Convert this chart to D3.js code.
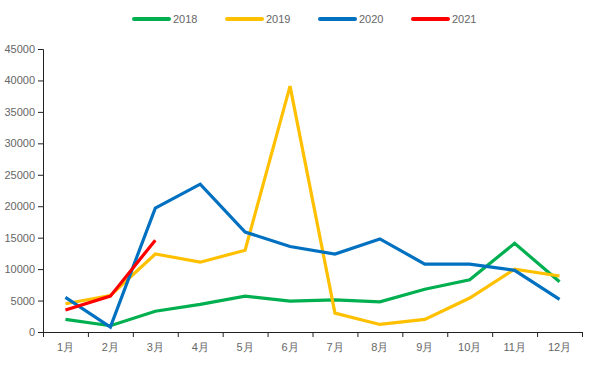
<!DOCTYPE html>
<html>
<head>
<meta charset="utf-8">
<script src="https://cdn.jsdelivr.net/npm/d3@7"></script>
<style>
  body { margin: 0; background: #fff; }
  text { font-family: "Liberation Sans", Arial, sans-serif; }
</style>
</head>
<body>
<svg id="chart" width="601" height="376"></svg>
<script>
const months = ['1月', '2月', '3月', '4月', '5月', '6月', '7月', '8月', '9月', '10月', '11月', '12月'];
const years = ['2018', '2019', '2020', '2021'];
const values2018 = [2000, 1000, 3300, 4400, 5700, 4900, 5100, 4800, 6800, 8300, 14100, 8000];
const values2019 = [4500, 5800, 12400, 11100, 13000, 39100, 3000, 1200, 2000, 5400, 10000, 8900];
const values2020 = [5500, 800, 19700, 23500, 15900, 13600, 12400, 14800, 10800, 10800, 9800, 5200];
const values2021 = [3500, 5700, 14600];
const yTicks = [0, 5000, 10000, 15000, 20000, 25000, 30000, 35000, 40000, 45000];
const colors = ['#00b050', '#ffc000', '#0070c0', '#ff0000'];

const series = [values2018, values2019, values2020, values2021];

const svg = d3.select('#chart');
const plotLeft = 43, plotRight = 582, plotTop = 49, plotBottom = 332;

const x = d3.scaleBand().domain(months).range([plotLeft, plotRight]);
const xEdge = d3.scaleLinear().domain([0, 12]).range([plotLeft, plotRight]);
const y = d3.scaleLinear().domain([0, 45000]).range([plotBottom, plotTop]);

// y axis
const yAxis = svg.append('g')
  .attr('transform', 'translate(' + plotLeft + ',0)')
  .call(d3.axisLeft(y).tickValues(yTicks).tickFormat(d3.format('d'))
    .tickSize(5).tickSizeOuter(5).tickPadding(3));
yAxis.selectAll('text').attr('fill', '#666').style('font-size', '11px');
yAxis.selectAll('line, path').attr('stroke', '#222');

// x axis: boundary ticks
const xTicks = svg.append('g')
  .attr('transform', 'translate(0,' + plotBottom + ')')
  .call(d3.axisBottom(xEdge).ticks(12).tickSize(5).tickSizeOuter(0).tickFormat(''));
xTicks.selectAll('line, path').attr('stroke', '#222');

// x axis labels
const xLabels = svg.append('g')
  .attr('transform', 'translate(0,' + plotBottom + ')')
  .call(d3.axisBottom(x).tickSize(0).tickPadding(11));
xLabels.select('.domain').remove();
xLabels.selectAll('text').attr('fill', '#666').style('font-size', '11px');

// lines
const line = d3.line()
  .x((d, i) => x(months[i]) + x.bandwidth() / 2)
  .y(d => y(d));

series.forEach((vals, k) => {
  svg.append('path')
    .datum(vals)
    .attr('fill', 'none')
    .attr('stroke', colors[k])
    .attr('stroke-width', 3.2)
    .attr('stroke-linejoin', 'miter')
    .attr('d', line);
});

// legend
const legend = svg.append('g').attr('transform', 'translate(134,19)');
years.forEach((yr, k) => {
  const g = legend.append('g').attr('transform', 'translate(' + (k * 93) + ',0)');
  g.append('line')
    .attr('x1', 0).attr('x2', 35)
    .attr('y1', 0).attr('y2', 0)
    .attr('stroke', colors[k])
    .attr('stroke-width', 4)
    .attr('stroke-linecap', 'round');
  g.append('text')
    .attr('x', 39).attr('y', 4)
    .attr('fill', '#666')
    .style('font-size', '11px')
    .text(yr);
});
</script>
</body>
</html>
